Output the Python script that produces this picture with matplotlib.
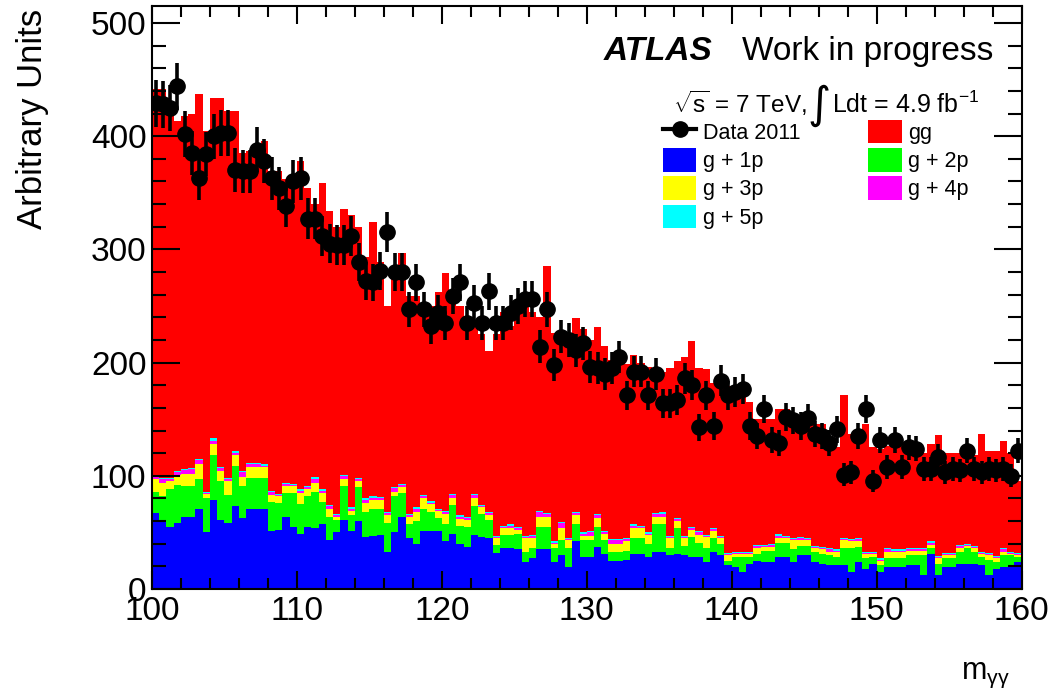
import numpy as np
import matplotlib
matplotlib.use("Agg")
import matplotlib.pyplot as plt
from matplotlib.lines import Line2D
from matplotlib.patches import Patch
from matplotlib.ticker import MultipleLocator

plt.rcParams['font.family'] = ['Liberation Sans', 'DejaVu Sans']
plt.rcParams['mathtext.fontset'] = 'custom'
plt.rcParams['mathtext.rm'] = 'Liberation Sans'
plt.rcParams['mathtext.it'] = 'Liberation Sans:italic'

# m_gamma-gamma binning: 100-160 GeV in 0.5 GeV bins
bin_lo, bin_hi, bin_w = 100.0, 160.0, 0.5

# Observed events per bin
data_2011 = [
    429, 428, 425, 444, 402, 385, 363, 384, 400, 403, 403, 370, 369, 369, 388, 378, 363, 354, 338, 360, 363, 327, 327, 312,
    305, 304, 304, 312, 289, 272, 271, 281, 315, 280, 280, 247, 271, 247, 232, 244, 235, 259, 271, 235, 253, 235, 263, 235,
    235, 244, 250, 256, 256, 214, 247, 198, 223, 220, 211, 217, 196, 195, 190, 195, 205, 171, 192, 192, 171, 190, 164, 164,
    167, 186, 180, 143, 171, 144, 184, 171, 174, 177, 144, 135, 159, 132, 129, 152, 149, 144, 151, 137, 135, 129, 141, 101,
    103, 135, 159, 95, 132, 108, 132, 108, 125, 124, 106, 106, 117, 103, 106, 105, 122, 106, 103, 106, 105, 106, 100, 122,
]

# Cumulative stack heights (g+1p, then +g+2p, then +g+3p)
stack_1p = [
    67, 60, 55, 58, 64, 64, 71, 50, 79, 61, 58, 73, 63, 71, 71, 71, 51, 52, 64, 55, 49, 55, 54, 57,
    43, 50, 61, 51, 60, 46, 47, 48, 33, 50, 64, 45, 40, 51, 51, 51, 42, 49, 40, 37, 48, 46, 45, 32,
    36, 36, 35, 24, 27, 35, 35, 24, 30, 19, 42, 28, 28, 37, 31, 25, 25, 26, 31, 31, 28, 33, 33, 30,
    31, 30, 28, 28, 24, 33, 30, 21, 19, 15, 22, 25, 24, 24, 28, 28, 24, 30, 30, 24, 22, 21, 21, 21,
    15, 24, 18, 22, 15, 19, 19, 19, 21, 21, 12, 31, 12, 19, 19, 22, 22, 22, 21, 12, 18, 19, 19, 24,
]
stack_2p = [
    86, 82, 88, 92, 91, 91, 97, 80, 118, 95, 83, 109, 91, 98, 98, 98, 77, 76, 85, 85, 75, 82, 86, 77,
    64, 61, 91, 65, 90, 68, 71, 71, 58, 82, 85, 57, 60, 71, 68, 63, 57, 74, 56, 55, 73, 66, 61, 39,
    48, 48, 49, 33, 36, 55, 55, 36, 43, 36, 57, 43, 43, 55, 43, 33, 33, 34, 45, 45, 40, 57, 57, 36,
    54, 38, 46, 41, 36, 45, 40, 25, 28, 28, 28, 31, 34, 34, 41, 41, 35, 38, 38, 33, 31, 30, 28, 36,
    36, 37, 27, 28, 21, 27, 27, 27, 30, 30, 30, 36, 22, 27, 27, 33, 36, 33, 28, 26, 24, 30, 30, 28,
]
stack_3p = [
    97, 94, 95, 101, 102, 102, 110, 84, 128, 104, 95, 118, 99, 108, 108, 108, 83, 82, 91, 91, 85, 88, 94, 85,
    71, 64, 97, 69, 95, 76, 79, 79, 65, 86, 90, 64, 68, 80, 75, 69, 66, 80, 62, 61, 80, 72, 65, 45,
    54, 54, 52, 45, 45, 64, 64, 40, 54, 43, 65, 47, 47, 63, 49, 40, 40, 42, 54, 54, 48, 64, 64, 45,
    60, 45, 52, 48, 46, 51, 45, 30, 31, 31, 31, 36, 37, 37, 45, 45, 43, 43, 43, 36, 35, 33, 33, 43,
    42, 42, 31, 31, 25, 33, 33, 33, 34, 34, 34, 39, 27, 30, 30, 36, 38, 36, 31, 30, 27, 33, 31, 30,
]
# Per-bin contributions of g+4p and g+5p
g4p = [
    2, 3, 2, 2, 3, 4, 4, 1, 3, 3, 2, 2, 4, 2, 2, 1, 3, 1, 2, 1, 2, 2, 3, 2,
    2, 1, 3, 2, 2, 3, 1, 1, 2, 3, 2, 1, 3, 2, 1, 1, 2, 3, 2, 2, 3, 1, 2, 1,
    1, 2, 2, 1, 2, 4, 2, 1, 4, 1, 2, 2, 3, 2, 1, 3, 3, 2, 2, 1, 1, 2, 2, 1,
    2, 1, 2, 2, 1, 2, 1, 1, 1, 1, 1, 2, 1, 2, 2, 1, 1, 2, 1, 1, 1, 2, 1, 1,
    1, 2, 1, 1, 1, 2, 1, 1, 1, 1, 1, 2, 1, 1, 1, 2, 1, 1, 1, 1, 1, 2, 1, 1,
]
g5p = [
    2, 1, 1, 1, 1, 1, 1, 1, 2, 1, 1, 2, 1, 1, 1, 1, 1, 1, 1, 1, 1, 1, 2, 1,
    1, 1, 1, 1, 1, 1, 2, 1, 1, 1, 1, 1, 1, 1, 2, 1, 1, 1, 1, 1, 1, 1, 1, 1,
    1, 1, 1, 1, 1, 1, 1, 1, 1, 1, 1, 1, 1, 1, 1, 1, 1, 1, 1, 1, 1, 1, 2, 1,
    1, 1, 1, 1, 1, 1, 1, 1, 1, 1, 1, 1, 1, 1, 2, 1, 1, 1, 1, 1, 1, 1, 1, 1,
    1, 1, 1, 1, 1, 1, 1, 1, 1, 1, 1, 1, 1, 1, 1, 1, 1, 1, 1, 1, 1, 1, 1, 1,
]
# Full stack height (gg on top of everything)
stack_total = [
    442, 442, 430, 413, 418, 420, 437, 405, 434, 434, 422, 422, 385, 387, 387, 396, 369, 369, 362, 360, 378, 354, 340, 359,
    334, 320, 336, 330, 320, 293, 324, 289, 250, 280, 297, 259, 259, 250, 250, 262, 279, 255, 250, 238, 238, 225, 210, 225,
    245, 232, 247, 257, 245, 240, 285, 226, 226, 226, 239, 230, 220, 231, 215, 202, 199, 199, 207, 200, 196, 192, 192, 195,
    201, 205, 219, 195, 194, 182, 182, 179, 180, 180, 165, 150, 150, 150, 159, 159, 148, 148, 148, 146, 146, 125, 125, 171,
    137, 140, 146, 125, 124, 126, 126, 126, 124, 120, 120, 128, 136, 120, 120, 120, 120, 118, 137, 122, 122, 131, 120, 95,
]

edges = np.arange(bin_lo, bin_hi + bin_w / 2, bin_w)
centers = 0.5 * (edges[:-1] + edges[1:])

lvl1 = np.array(stack_1p, float)
lvl2 = np.array(stack_2p, float)
lvl3 = np.array(stack_3p, float)
lvl4 = lvl3 + np.array(g4p, float)
lvl5 = lvl4 + np.array(g5p, float)
lvl_tot = np.array(stack_total, float)
data = np.array(data_2011, float)

W, H = 1057, 693
fig = plt.figure(figsize=(W / 100, H / 100), dpi=100)
ax = fig.add_axes([152 / W, 1 - 589 / H, 869.5 / W, 583 / H])

bands = [
    (lvl5, lvl_tot, '#ff0000'),
    (np.zeros_like(lvl1), lvl1, '#0000ff'),
    (lvl1, lvl2, '#00ff00'),
    (lvl2, lvl3, '#ffff00'),
    (lvl3, lvl4, '#ff00ff'),
    (lvl4, lvl5, '#00ffff'),
]
for base, top, col in bands:
    ax.stairs(top, edges, baseline=base, fill=True, color=col, linewidth=0)

ax.errorbar(centers, data, yerr=np.sqrt(data), fmt='o', color='black',
            markersize=11, elinewidth=2.6, capsize=0, zorder=5)

ax.set_xlim(bin_lo, bin_hi)
ax.set_ylim(0, 515)
ax.xaxis.set_major_locator(MultipleLocator(10))
ax.xaxis.set_minor_locator(MultipleLocator(2))
ax.yaxis.set_major_locator(MultipleLocator(100))
ax.yaxis.set_minor_locator(MultipleLocator(20))
ax.tick_params(which='both', direction='in', top=True, right=True, width=1.5)
ax.xaxis.set_tick_params(which='major', length=13, pad=5, labelsize=24)
ax.xaxis.set_tick_params(which='minor', length=8)
ax.yaxis.set_tick_params(which='major', length=20, pad=4, labelsize=24)
ax.yaxis.set_tick_params(which='minor', length=10)
for sp in ax.spines.values():
    sp.set_linewidth(1.5)

ax.set_ylabel('Arbitrary Units', fontsize=25, loc='top')
ax.yaxis.set_label_coords(-0.118, 0.995)
ax.set_xlabel(r'm$_{\mathrm{γγ}}$', fontsize=22, loc='right')
ax.xaxis.set_label_coords(0.987, -0.122)

ax.text(0.519, 0.907, 'ATLAS', transform=ax.transAxes, fontsize=24,
        fontweight='bold', fontstyle='italic', va='baseline')
ax.text(0.679, 0.907, 'Work in progress', transform=ax.transAxes, fontsize=24,
        va='baseline')

# Energy and luminosity line, with a tall integral sign
ax.text(0.5992, 0.8165, r'$\sqrt{\mathrm{s}}$ = 7 TeV,', transform=ax.transAxes,
        fontsize=17.5, va='baseline')
ax.text(0.7540, 0.830, '∫', transform=ax.transAxes, fontsize=32,
        family=['DejaVu Sans'], va='center', ha='left')
ax.text(0.7815, 0.8165, r'Ldt = 4.9 fb$^{-1}$', transform=ax.transAxes,
        fontsize=18, va='baseline')

handles = [
    Line2D([], [], color='black', marker='o', markersize=11, linewidth=3),
    Patch(facecolor='#0000ff', edgecolor='none'),
    Patch(facecolor='#ffff00', edgecolor='none'),
    Patch(facecolor='#00ffff', edgecolor='none'),
    Patch(facecolor='#ff0000', edgecolor='none'),
    Patch(facecolor='#00ff00', edgecolor='none'),
    Patch(facecolor='#ff00ff', edgecolor='none'),
]
labels = ['Data 2011', 'g + 1p', 'g + 3p', 'g + 5p', 'gg', 'g + 2p', 'g + 4p']
ax.legend(handles, labels, ncol=2, loc='upper left', bbox_to_anchor=(0.5877, 0.8045),
          frameon=False, fontsize=15.5, borderpad=0, borderaxespad=0,
          handlelength=1.55, handleheight=1.3, handletextpad=0.3,
          labelspacing=0.2, columnspacing=3.15)

fig.savefig('out.png', dpi=100)
